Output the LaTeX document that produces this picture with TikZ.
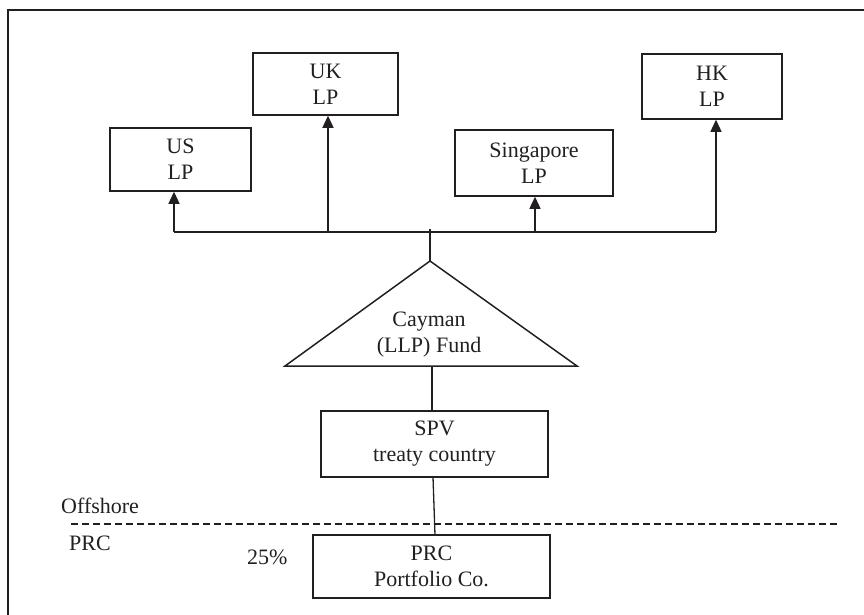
\documentclass[tikz,border=0pt]{standalone}
\usepackage{fontspec}
\setmainfont{Liberation Serif}
\usetikzlibrary{arrows.meta}
\definecolor{ink}{RGB}{35,31,32}
\begin{document}
\begin{tikzpicture}[x=1pt,y=-1pt,
  every node/.style={text=ink, font=\fontsize{22}{26}\selectfont},
  entity/.style={draw=ink, line width=1.5pt, align=center, inner sep=0pt},
  link/.style={draw=ink, line width=1.3pt},
  uparrow/.style={link, -{Triangle[length=12pt,width=11pt]}},
  tag/.style={anchor=west, inner sep=0pt}]
\clip (0,0) rectangle (864,614);
\useasboundingbox (0,0) rectangle (864,614);

% outer frame (runs off the right and bottom)
\draw[ink, line width=1.5pt] (890,10) -- (8,10) -- (8,640);

% limited partners
\node[entity, minimum width=141pt, minimum height=63pt] (us)  at (180.5,159.5) {US\\LP};
\node[entity, minimum width=145pt, minimum height=62pt] (uk)  at (325.5,84)    {UK\\LP};
\node[entity, minimum width=158pt, minimum height=66pt] (sg)  at (534,163)     {Singapore\\LP};
\node[entity, minimum width=140pt, minimum height=65pt] (hk)  at (712,86.5)    {HK\\LP};

% distribution bus
\coordinate (busUS) at (174,232);
\coordinate (busUK) at (328,232);
\coordinate (busSG) at (535,232);
\coordinate (busHK) at (716,232);
\coordinate (busTop) at (430,229);
\draw[link] (busUS) -- (busHK);
\draw[uparrow] (busUS) -- (busUS |- us.south);
\draw[uparrow] (busUK) -- (busUK |- uk.south);
\draw[uparrow] (busSG) -- (busSG |- sg.south);
\draw[uparrow] (busHK) -- (busHK |- hk.south);

% fund triangle
\coordinate (apex) at (430,261);
\coordinate (baseL) at (285,366);
\coordinate (baseR) at (577,366);
\coordinate (baseMid) at (432,366);
\draw[ink, line width=1.5pt, line join=miter] (apex) -- (baseR) -- (baseL) -- cycle;
\node[align=center, inner sep=0pt] (fund) at (429,334.5) {Cayman\\(LLP) Fund};
\draw[link] (busTop) -- (apex);

% SPV and portfolio company
\node[entity, minimum width=227pt, minimum height=66pt] (spv) at (434.5,444) {SPV\\treaty country};
\node[entity, minimum width=237pt, minimum height=63pt] (prc) at (431.5,566.5) {PRC\\Portfolio Co.};
\draw[link] (baseMid) -- (baseMid |- spv.north);
\coordinate (spvOut) at (433,477);
\coordinate (prcIn) at (435,535);
\draw[link] (spvOut) -- (prcIn);

% offshore / PRC boundary
\coordinate (divL) at (71,524);
\coordinate (divR) at (838,524);
\draw[ink, line width=1.3pt, dash pattern=on 7pt off 4pt] (divL) -- (divR);
\node[tag] (offshore) at (61,506) {Offshore};
\node[tag] (prcside) at (69,543) {PRC};
\node[tag] (rate) at (247,557) {25\%};
\end{tikzpicture}
\end{document}
